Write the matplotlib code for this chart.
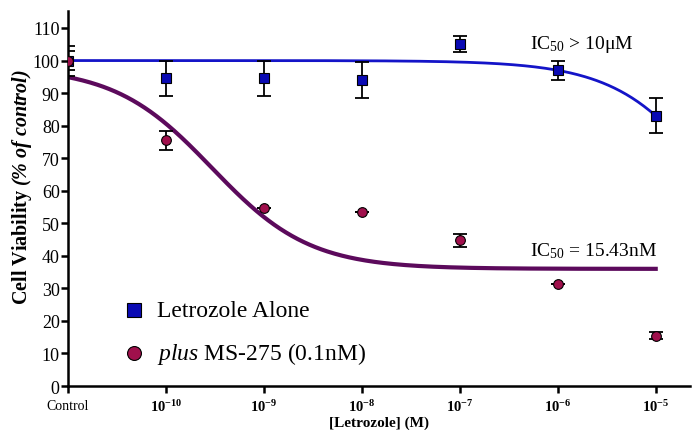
import numpy as np
import matplotlib
matplotlib.use("Agg")
import matplotlib.pyplot as plt

plt.rcParams['font.family'] = ['Liberation Serif', 'DejaVu Serif']
plt.rcParams['mathtext.fontset'] = 'custom'
plt.rcParams['mathtext.rm'] = 'Liberation Serif'
plt.rcParams['mathtext.it'] = 'Liberation Serif:italic'
plt.rcParams['mathtext.bf'] = 'Liberation Serif:bold'
plt.rcParams['mathtext.bfit'] = 'Liberation Serif:italic:bold'

# data (x as log10 concentration; control plotted at -11)
x_log = [-11, -10, -9, -8, -7, -6, -5]
x_labels = ['Control', r'$\mathbf{10^{-10}}$', r'$\mathbf{10^{-9}}$', r'$\mathbf{10^{-8}}$',
            r'$\mathbf{10^{-7}}$', r'$\mathbf{10^{-6}}$', r'$\mathbf{10^{-5}}$']
alone_mean = [100, 94.5, 94.5, 94.0, 105.0, 97.0, 83.0]
alone_err = [4.6, 5.4, 5.4, 5.6, 2.4, 3.0, 5.4]
plus_mean = [100, 75.5, 54.8, 53.4, 44.8, 31.2, 15.5]
plus_err = [3.0, 3.0, 0.0, 0.0, 2.0, 0.0, 1.2]

# fitted curve parameters (four-parameter logistic)
alone_fit = dict(top=100.0, bottom=0.0, logic50=-4.16, hill=0.82)
plus_fit = dict(top=98.0, bottom=36.0, logic50=-9.53, hill=0.87)

def hill(x, top, bottom, logic50, hill):
    return bottom + (top - bottom) / (1 + 10 ** ((x - logic50) * hill))

fig = plt.figure(figsize=(6.95, 4.31), dpi=100)
ax = fig.add_axes([0.0978, 0.102, 0.895, 0.870])

xx = np.linspace(-11, -5, 400)
ax.plot(xx, hill(xx, **alone_fit), color='#1414c8', lw=2.0, zorder=2)
ax.plot(xx, hill(xx, **plus_fit), color='#5c0a5c', lw=3.0, zorder=2)

ax.errorbar(x_log, alone_mean, yerr=alone_err, fmt='none', ecolor='black',
            elinewidth=1.3, capsize=5, capthick=1.3, zorder=3)
ax.errorbar(x_log, plus_mean, yerr=plus_err, fmt='none', ecolor='black',
            elinewidth=1.3, capsize=5, capthick=1.3, zorder=3)
ax.plot(x_log, alone_mean, ls='none', marker='s', ms=7.5, mfc='#0a0ab4',
        mec='black', mew=0.8, zorder=4)
ax.plot(x_log, plus_mean, ls='none', marker='o', ms=7, mfc='#a0104c',
        mec='black', mew=0.8, zorder=5)

ax.set_xlim(-11, -4.65)
ax.set_ylim(0, 115.2)
ax.set_yticks(range(0, 111, 10))
ax.set_xticks(x_log)
ax.set_xticklabels(x_labels)
for lbl in ax.get_xticklabels():
    lbl.set_fontsize(10.5)
ax.get_xticklabels()[0].set_fontsize(10)
ax.tick_params(axis='y', labelsize=13, width=1.8, length=5, pad=1)
ax.tick_params(axis='x', width=1.8, length=5, pad=4)
for s in ['top', 'right']:
    ax.spines[s].set_visible(False)
for s in ['left', 'bottom']:
    ax.spines[s].set_linewidth(1.8)

ax.set_xlabel('[Letrozole] (M)', fontsize=11, fontweight='bold', labelpad=1)
ax.set_ylabel(r'$\mathbf{Cell\ Viability}\ \mathbfit{(\%\ of\ control)}$', fontsize=14.5)
ax.yaxis.set_label_coords(-0.054, 0.533)

ax.text(-6.28, 105.3, r'IC$_{50}$ > 10μM', fontsize=14, ha='left', va='center')
ax.text(-6.28, 41.6, r'IC$_{50}$ = 15.43nM', fontsize=14, ha='left', va='center')

# legend
ax.plot([-10.33], [23.3], ls='none', marker='s', ms=10, mfc='#0a0ab4', mec='black', mew=0.8)
ax.plot([-10.33], [10.2], ls='none', marker='o', ms=10, mfc='#a0104c', mec='black', mew=0.8)
ax.text(-10.09, 23.3, 'Letrozole Alone', fontsize=17, va='center', family='Liberation Serif')
ax.text(-10.09, 10.2, r'$\mathit{plus}$ MS-275 (0.1nM)', fontsize=17, va='center', family='Liberation Serif')

fig.savefig('out.png', dpi=100)
